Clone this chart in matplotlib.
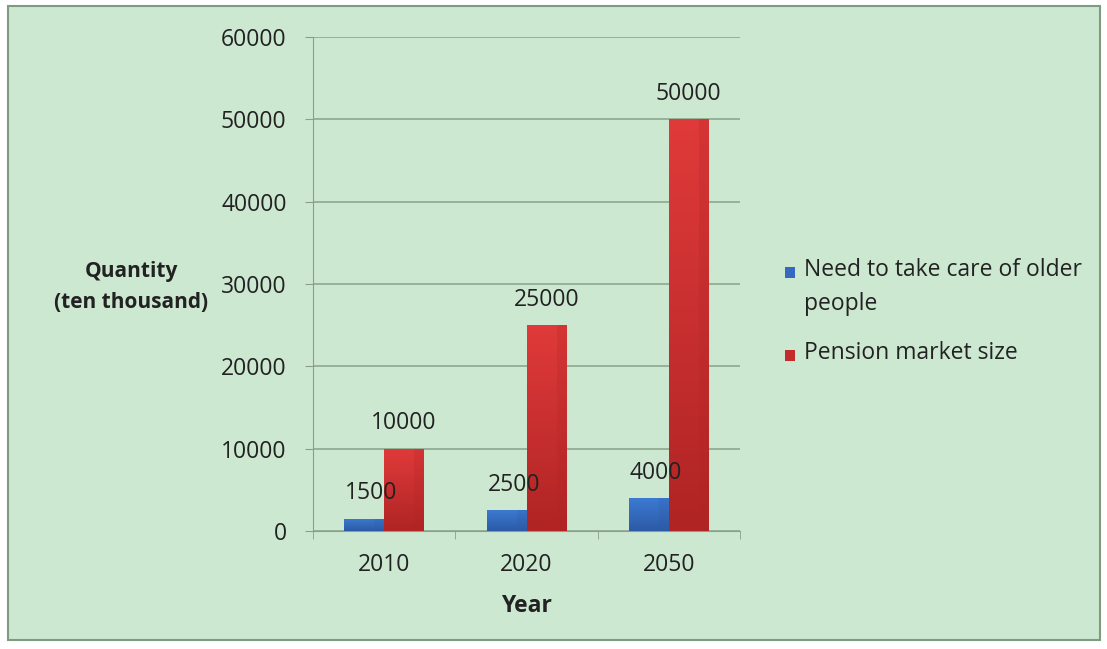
import numpy as np
import matplotlib.pyplot as plt
from matplotlib.patches import Rectangle
from matplotlib.colors import LinearSegmentedColormap

years = ['2010', '2020', '2050']
care_need = [1500, 2500, 4000]
pension_market = [10000, 25000, 50000]
series_names = ['Need to take care of older\npeople', 'Pension market size']
blue = '#3568c0'
red = '#c42b2b'

plt.rcParams['font.family'] = ['Open Sans', 'DejaVu Sans']

bg = '#cde8d1'
txt = '#222222'
fig = plt.figure(figsize=(11.07, 6.49), dpi=100, facecolor='white')
# green panel with darker border
fig.patches.append(Rectangle((8/1107, 1-640/649), 1092/1107, 634/649,
                             transform=fig.transFigure, facecolor=bg,
                             edgecolor='#7f9a80', linewidth=1.5, zorder=-5))

ax = fig.add_axes([313/1107, 1-531/649, 427/1107, 494/649])
ax.set_zorder(2)
ax.set_facecolor(bg)

x = np.arange(len(years))
w = 0.28
b1 = ax.bar(x - w/2, care_need, w, color=blue, label=series_names[0], zorder=3)
b2 = ax.bar(x + w/2, pension_market, w, color=red, label=series_names[1], zorder=3)

# shaded fill like the office chart: light top, darker bottom and right edge
cm_blue = LinearSegmentedColormap.from_list('b', ['#2c5aa6', '#3c7ad2'])
cm_red = LinearSegmentedColormap.from_list('r', ['#b02424', '#e03a3a'])
shade = np.linspace(0, 1, 100).reshape(-1, 1) * np.ones((1, 20))
shade[:, 15:] *= 0.75
for bars, cmap in [(b1, cm_blue), (b2, cm_red)]:
    for r in bars:
        x0, y0 = r.get_x(), r.get_y()
        im = ax.imshow(shade, cmap=cmap, origin='lower', aspect='auto',
                       extent=(x0, x0 + r.get_width(), y0, y0 + r.get_height()),
                       zorder=3.5, vmin=0, vmax=1)
        im.set_clip_path(r)

for xi, v in zip(x, care_need):
    ax.text(xi - w/2 + 0.05, v + 1600, str(v), ha='center', va='bottom',
            fontsize=16.5, color=txt, zorder=4)
for xi, v in zip(x, pension_market):
    ax.text(xi + w/2, v + 1600, str(v), ha='center', va='bottom',
            fontsize=16.5, color=txt, zorder=4)

ax.set_xlim(-0.5, 2.5)
ax.set_ylim(0, 60000)
ax.set_yticks(np.arange(0, 60001, 10000))
ax.set_xticks(x)
ax.set_xticklabels(years)
ax.set_xticks([-0.5, 0.5, 1.5, 2.5], minor=True)
ax.tick_params(axis='x', which='major', length=0, pad=16, labelsize=16.5, labelcolor=txt)
ax.tick_params(axis='x', which='minor', length=6, color='#8a9e8b')
ax.tick_params(axis='y', length=6, color='#8a9e8b', labelsize=16.5, labelcolor=txt, pad=13)
ax.grid(axis='y', color='#8ea88f', linewidth=1.2, zorder=0)
for s in ['top', 'right']:
    ax.spines[s].set_visible(False)
ax.spines['left'].set_color('#8a9e8b')
ax.spines['bottom'].set_color('#8a9e8b')

ax.set_xlabel('Year', fontsize=16.5, fontweight='bold', labelpad=12, color=txt)
fig.text(131/1107, 1-287/649, 'Quantity\n(ten thousand)', ha='center', va='center',
         fontsize=15, fontweight='bold', color=txt, linespacing=1.6)

# legend drawn by hand so the marker sits beside the first text line
legend_rows = [272, 355]
for name, col, yy in zip(series_names, [blue, red], legend_rows):
    fig.patches.append(Rectangle((785/1107, 1-(yy+6)/649), 10/1107, 11/649,
                                 transform=fig.transFigure, facecolor=col,
                                 edgecolor='none', zorder=3))
    fig.text(804/1107, 1-(yy-14)/649, name, ha='left', va='top', fontsize=16.5,
             color=txt, linespacing=1.55)

plt.savefig('out.png', dpi=100, facecolor='white')
